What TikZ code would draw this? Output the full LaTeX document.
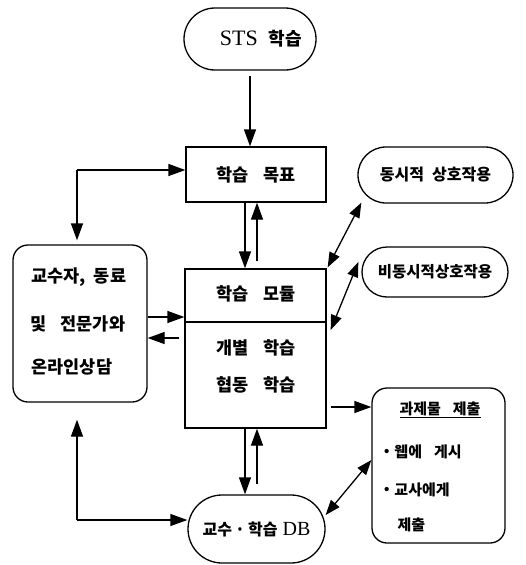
\documentclass[tikz,border=0pt]{standalone}
\usepackage{fontspec}
\setmainfont{Liberation Serif}
\newfontfamily\kr{Noto Sans CJK KR}
\usetikzlibrary{arrows.meta,calc}
\newcommand\kg{\hspace{0.8em}}
\begin{document}
\begin{tikzpicture}[x=1pt,y=-1pt,
  line width=1.3pt,
  arr/.style={-{Triangle[length=17pt,width=12pt]}},
  darr/.style={{Triangle[length=15pt,width=11pt]}-{Triangle[length=15pt,width=11pt]}},
  stad/.style={draw, rounded corners=#1, inner sep=0pt},
  sqbox/.style={draw, inner sep=0pt},
  ktxt/.style={font=\kr\bfseries\fontsize{17.5}{20}\selectfont, inner sep=0pt},
  stxt/.style={font=\kr\bfseries\fontsize{15}{18}\selectfont, inner sep=0pt},
]
\useasboundingbox (0,0) rectangle (526,565);

% nodes
\node[stad=31, minimum width=132pt, minimum height=62pt,
      font=\fontsize{22}{24}\selectfont] (sts) at (250,39)
      {\hspace*{22pt}STS\hspace{0.5em}{\kr\bfseries\fontsize{18}{20}\selectfont 학습}};
\node[sqbox, minimum width=140pt, minimum height=55pt, ktxt] (goal) at (256,174.5)
      {학습\kg 목표};
\node[stad=28, minimum width=155pt, minimum height=56pt, inner sep=0pt,
      font=\kr\bfseries\fontsize{16}{18}\selectfont] (sync) at (435.5,175)
      {동시적\hspace{0.5em}상호작용};
\node[stad=25, minimum width=146pt, minimum height=50pt, inner sep=0pt,
      font=\kr\bfseries\fontsize{15.5}{18}\selectfont] (async) at (435,272)
      {비동시적상호작용};
\node[stad=15, minimum width=134pt, minimum height=157pt] (left) at (80,323.5) {};
\node[ktxt, anchor=west] (l1) at (31,277) {교수자,\hspace{0.45em}동료};
\node[ktxt, anchor=west] (l2) at (30,324) {및\kg 전문가와};
\node[ktxt, anchor=west] (l3) at (31,367) {온라인상담};

\node[sqbox, minimum width=141pt, minimum height=159pt] (mod) at (255.5,348.5) {};
\draw (mod.west |- 0,322) -- (mod.east |- 0,322);
\node[ktxt] (m1) at (256,294) {학습\kg 모듈};
\node[ktxt] (m2) at (256,348) {개별\kg 학습};
\node[ktxt] (m3) at (256,385) {협동\kg 학습};

\node[stad=15, minimum width=133pt, minimum height=155pt] (task) at (438.5,465.5) {};
\node[stxt] (t1) at (440,410) {\underline{과제물\kg 제출}};
\node[stxt, anchor=west] (t2) at (383,452) {{\rmfamily\mdseries\fontsize{18}{15}\selectfont •}\hspace{0.3em}웹에\kg 게시};
\node[stxt, anchor=west] (t3) at (383,490) {{\rmfamily\mdseries\fontsize{18}{15}\selectfont •}\hspace{0.3em}교사에게};
\node[stxt, anchor=west] (t4) at (397,525) {제출};

\node[stad=34, minimum width=137pt, minimum height=68pt] (db) at (256.5,529)
      {{\kr\bfseries\fontsize{16}{18}\selectfont 교수\hspace{0.2em}·\hspace{0.2em}학습}\hspace{0.5em}{\fontsize{20}{22}\selectfont DB}};

% connectors
\draw[arr, shorten <=5pt] (sts.south) -- (sts.south |- goal.north);

\coordinate (c1) at (77,170);
\draw[arr] (c1) -- (goal.west |- c1);
\draw[arr, shorten >=4pt] (c1) -- (c1 |- left.north);

\draw[arr] ($(goal.south)+(-11,0)$) -- ($(mod.north)+(-10.5,0)$);
\draw[arr] ($(mod.north)+(1.5,-7)$) -- ($(goal.south)+(1,0)$);

\draw[arr] (left.east |- 0,317) -- (mod.west |- 0,317);
\draw[arr] ($(mod.west |- 0,338)+(-5,0)$) -- (left.east |- 0,338);

\draw[darr] ($(mod.north east)+(1,-1)$) -- ($(sync.south west)+(4,-1)$);
\draw[darr] ($(mod.east |- 0,330)+(4,0)$) -- ($(async.west)+(-3,-10)$);

\draw[arr] ($(mod.east |- 0,407)+(4,0)$) -- (task.west |- 0,407);

\draw[arr] ($(mod.south)+(-10.5,0)$) -- ($(db.north)+(-11.5,0)$);
\draw[arr] ($(db.north)+(0.5,-10)$) -- ($(mod.south)+(1.5,0)$);

\coordinate (c2) at (77,520);
\draw[arr, shorten >=17pt] (c2) -- (c1 |- left.south);
\draw[arr] (c2) -- (db.west |- c2);

\draw[darr] ($(db.east)+(0,-14)$) -- ($(task.west)+(0,-5.5)$);
\end{tikzpicture}
\end{document}
